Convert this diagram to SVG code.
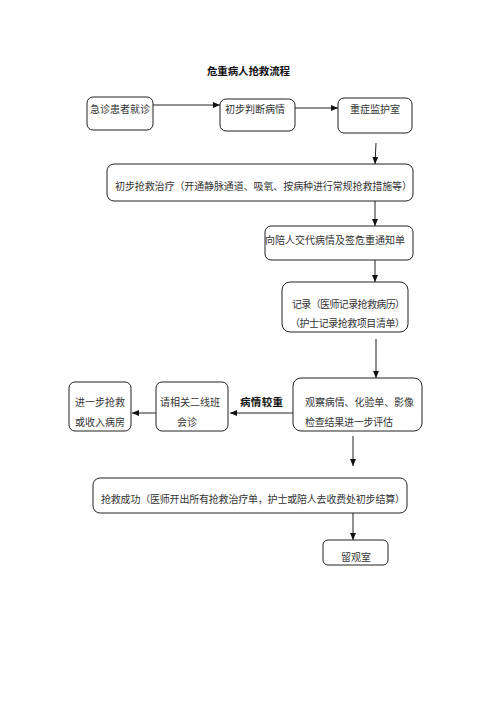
<svg xmlns="http://www.w3.org/2000/svg" width="496" height="702" viewBox="0 0 496 702">
<defs>
<marker id="ah" markerUnits="userSpaceOnUse" markerWidth="7" markerHeight="6" refX="7" refY="3" orient="auto">
<path d="M0,0 L7,3 L0,6 Z" fill="#111"/>
</marker>
<style>
.box{fill:#fff;stroke:#222;stroke-width:1}
.t{font-family:"Noto Sans CJK SC",sans-serif;font-size:10px;fill:#333}
.b{font-family:"Noto Sans CJK SC",sans-serif;font-size:10.5px;font-weight:bold;fill:#111}
.ln{stroke:#222;stroke-width:1;fill:none;marker-end:url(#ah)}
</style>
</defs>
<rect width="496" height="702" fill="#fff"/>
<text class="b" x="207" y="74.5" textLength="83">危重病人抢救流程</text>
<g id="n1"><rect class="box" x="87" y="97" width="66" height="33" rx="6"/><text class="t" x="90" y="112.5">急诊患者就诊</text></g>
<g id="n2"><rect class="box" x="220" y="99" width="75" height="32" rx="6"/><text class="t" x="225" y="112.5">初步判断病情</text></g>
<g id="n3"><rect class="box" x="338" y="98" width="74" height="35" rx="6"/><text class="t" x="350" y="112.5">重症监护室</text></g>
<g id="n4"><rect class="box" x="107" y="164" width="306" height="37" rx="7"/><text class="t" x="115" y="189.5" textLength="297">初步抢救治疗（开通静脉通道、吸氧、按病种进行常规抢救措施等）</text></g>
<g id="n5"><rect class="box" x="265" y="226" width="148" height="34" rx="6"/><text class="t" x="265" y="243.5" textLength="140">向陪人交代病情及签危重通知单</text></g>
<g id="n6"><rect class="box" x="282" y="282" width="126" height="50" rx="8"/><text class="t" x="292" y="307.5" textLength="113">记录（医师记录抢救病历）</text><text class="t" x="290" y="326.5" textLength="115">（护士记录抢救项目清单）</text></g>
<g id="n7"><rect class="box" x="293" y="378" width="129" height="53" rx="8"/><text class="t" x="305" y="405.5" textLength="109">观察病情、化验单、影像</text><text class="t" x="305" y="425.5" textLength="88">检查结果进一步评估</text></g>
<g id="n8"><rect class="box" x="156" y="382" width="72" height="49" rx="6"/><text class="t" x="160" y="405.5">请相关二线班</text><text class="t" x="177" y="425.5">会诊</text></g>
<g id="n9"><rect class="box" x="69" y="382" width="62" height="49" rx="6"/><text class="t" x="75" y="405.5">进一步抢救</text><text class="t" x="75" y="425.5">或收入病房</text></g>
<g id="n10"><rect class="box" x="93" y="478" width="314" height="35" rx="7"/><text class="t" x="101" y="502.5" textLength="304">抢救成功（医师开出所有抢救治疗单，护士或陪人去收费处初步结算）</text></g>
<g id="n11"><rect class="box" x="323" y="540" width="65" height="25" rx="5"/><text class="t" x="341" y="560.5">留观室</text></g>
<g id="edges">
<line class="ln" x1="153" y1="105" x2="220" y2="105"/>
<line class="ln" x1="295" y1="108" x2="338" y2="108"/>
<line class="ln" x1="376" y1="143" x2="375" y2="164"/>
<line class="ln" x1="375" y1="201" x2="375" y2="226"/>
<line class="ln" x1="375" y1="260" x2="375" y2="282"/>
<line class="ln" x1="376" y1="339" x2="376" y2="378"/>
<line class="ln" x1="293" y1="413" x2="230" y2="413"/>
<line class="ln" x1="156" y1="413" x2="132" y2="413"/>
<line class="ln" x1="353" y1="436" x2="353" y2="466"/>
<line class="ln" x1="353" y1="513" x2="353" y2="540"/>
<text class="b" x="240" y="405.5" textLength="43">病情较重</text>
</g>
</svg>
